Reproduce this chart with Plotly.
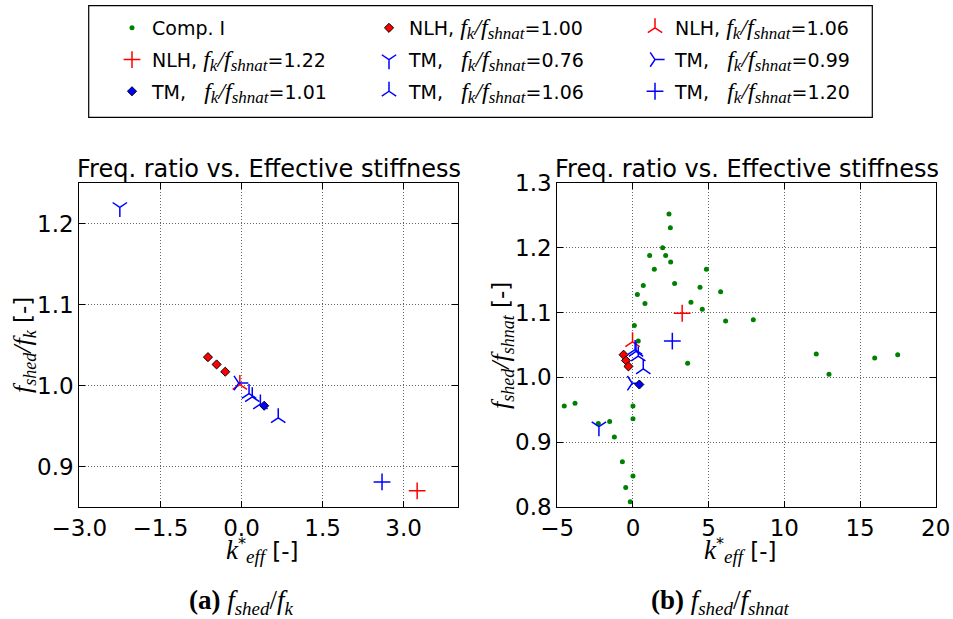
import plotly.graph_objects as go

W, H = 953, 619

# ---- data ----
# Comp. I (only in panel b)
comp_k = [2.38, 2.47, 1.96, 1.10, 2.16, 2.49, 1.41, 4.85, 0.68, 2.75, 4.43, 0.29,
          5.79, 0.79, 3.83, 4.58, 6.12, 7.95, 0.09, 0.35, 3.61, 12.11, 12.95, 15.97,
          17.49, -4.54, -3.83, -2.29, -1.54, -1.23, 0.00, 0.00, -0.70, 0.00, -0.48, -0.18]
comp_ratio = [1.252, 1.231, 1.200, 1.188, 1.188, 1.178, 1.167, 1.167, 1.142, 1.145, 1.139, 1.128,
              1.132, 1.114, 1.116, 1.105, 1.087, 1.089, 1.080, 1.056, 1.022, 1.036, 1.005, 1.030,
              1.035, 0.956, 0.960, 0.929, 0.932, 0.908, 0.956, 0.936, 0.870, 0.848, 0.830, 0.808]

nlh100_k = [-0.62, -0.46, -0.30]
nlh100_fk = [1.035, 1.026, 1.017]
nlh100_fn = [1.035, 1.026, 1.017]

nlh106_k = [-0.03]
nlh106_fk = [1.001]
nlh106_fn = [1.055]

nlh122_k = [3.25]
nlh122_fk = [0.870]
nlh122_fn = [1.099]

tm076_k = [-2.25]
tm076_fk = [1.220]
tm076_fn = [0.924]

tm099_k = [-0.05]
tm099_fk = [1.003]
tm099_fn = [0.991]

tm101_k = [0.42]
tm101_fk = [0.975]
tm101_fn = [0.989]

tm106_k = [0.14, 0.20, 0.35, 0.68]
tm106_fk = [0.990, 0.986, 0.977, 0.960]
tm106_fn = [1.043, 1.040, 1.033, 1.013]

tm120_k = [2.60]
tm120_fk = [0.881]
tm120_fn = [1.056]

x_ticks_a = [-3.0, -1.5, 0.0, 1.5, 3.0]
y_ticks_a = [0.9, 1.0, 1.1, 1.2]
x_ticks_b = [-5, 0, 5, 10, 15, 20]
y_ticks_b = [0.8, 0.9, 1.0, 1.1, 1.2, 1.3]

GREEN, RED, BLUE = '#008000', '#ff0000', '#0000ff'


def math(s, size=None):
    st = 'font-family:Liberation Serif'
    if size:
        st += ';font-size:%dpx' % size
    return '<span style="' + st + '"><i>' + s + '</i></span>'


def ratio_lbl(kind, val, gap=' '):
    return (kind + ',' + gap + math('f', 24) + '<sub>' + math('k', 17) + '</sub>'
            + math('/f', 24) + '<sub>' + math('shnat', 17) + '</sub>=' + val)


# (name, k, y panel a, y panel b, symbol, size, colour, edge, legend column)
series = [
    ('Comp. I', None, None, None, 'circle', 5, GREEN, None, 'legend'),
    (ratio_lbl('NLH', '1.00'), nlh100_k, nlh100_fk, nlh100_fn, 'diamond', 7, RED, 'black', 'legend2'),
    (ratio_lbl('NLH', '1.06'), nlh106_k, nlh106_fk, nlh106_fn, 'y-up', 12, RED, None, 'legend3'),
    (ratio_lbl('NLH', '1.22'), nlh122_k, nlh122_fk, nlh122_fn, 'cross-thin', 12, RED, None, 'legend'),
    (ratio_lbl('TM', '0.76', '   '), tm076_k, tm076_fk, tm076_fn, 'y-down', 12, BLUE, None, 'legend2'),
    (ratio_lbl('TM', '0.99', '   '), tm099_k, tm099_fk, tm099_fn, 'y-right', 12, BLUE, None, 'legend3'),
    (ratio_lbl('TM', '1.01', '   '), tm101_k, tm101_fk, tm101_fn, 'diamond', 7, BLUE, 'black', 'legend'),
    (ratio_lbl('TM', '1.06', '   '), tm106_k, tm106_fk, tm106_fn, 'y-up', 12, BLUE, None, 'legend2'),
    (ratio_lbl('TM', '1.20', '   '), tm120_k, tm120_fk, tm120_fn, 'cross-thin', 12, BLUE, None, 'legend3'),
]

fig = go.Figure()

for name, k, ya, yb, sym, size, col, edge, leg in series:
    if edge:
        mk = dict(symbol=sym, size=size, color=col, line=dict(color=edge, width=1))
    elif sym == 'circle':
        mk = dict(symbol=sym, size=size, color=col, line=dict(width=0))
    else:
        mk = dict(symbol=sym, size=size, color=col, line=dict(color=col, width=1.5))
    if name == 'Comp. I':
        fig.add_trace(go.Scatter(x=comp_k, y=comp_ratio, mode='markers', marker=mk, name=name,
                                 legend=leg, legendgroup=name, xaxis='x2', yaxis='y2'))
        continue
    fig.add_trace(go.Scatter(x=k, y=ya, mode='markers', marker=mk, name=name, legendgroup=name,
                             showlegend=False, xaxis='x', yaxis='y'))
    fig.add_trace(go.Scatter(x=k, y=yb, mode='markers', marker=mk, name=name, legendgroup=name,
                             legend=leg, xaxis='x2', yaxis='y2'))

ax = dict(showline=True, linecolor='black', linewidth=1, mirror='ticks', ticks='inside',
          ticklen=6, tickcolor='black', showgrid=True, gridcolor='#666', griddash='1px,2px',
          gridwidth=1, zeroline=False, tickformat='.1f', automargin=False,
          tickfont=dict(family='DejaVu Sans', size=23, color='black'))

xa_dom = [79.3 / W, 457.7 / W]
xb_dom = [557.3 / W, 935.7 / W]
y_dom = [1 - 507 / H, 1 - 183 / H]

fig.update_layout(
    xaxis=dict(ax, domain=xa_dom, range=[-3, 4], tickvals=x_ticks_a, anchor='y'),
    yaxis=dict(ax, domain=y_dom, range=[0.85, 1.25], tickvals=y_ticks_a, anchor='x'),
    xaxis2=dict(ax, domain=xb_dom, range=[-5, 20], tickvals=x_ticks_b, tickformat='d', anchor='y2'),
    yaxis2=dict(ax, domain=y_dom, range=[0.8, 1.3], tickvals=y_ticks_b, anchor='x2'),
)

leg_common = dict(orientation='v', xanchor='left', yanchor='top', bgcolor='rgba(0,0,0,0)',
                  borderwidth=0, tracegroupgap=4,
                  font=dict(family='DejaVu Sans', size=19, color='black'))
fig.update_layout(
    legend=dict(leg_common, x=112 / W, y=1 - 9 / H),
    legend2=dict(leg_common, x=369 / W, y=1 - 9 / H),
    legend3=dict(leg_common, x=635 / W, y=1 - 9 / H),
)

# legend frame
fig.add_shape(type='rect', xref='paper', yref='paper', x0=88.7 / W, x1=872.3 / W,
              y0=1 - 117.3 / H, y1=1 - 5.7 / H, line=dict(color='black', width=1.2),
              fillcolor='rgba(0,0,0,0)')

title_txt = 'Freq. ratio vs. Effective stiffness'
sans = dict(family='DejaVu Sans', size=24, color='black')
serif = dict(family='Liberation Serif', size=27, color='black')
for dom in (xa_dom, xb_dom):
    cx = (dom[0] + dom[1]) / 2
    fig.add_annotation(text=title_txt, x=cx, y=1 - 185 / H, xref='paper', yref='paper',
                       xanchor='center', yanchor='bottom', showarrow=False, font=sans)
    fig.add_annotation(text=math('k', 27) + '<sup>*</sup><sub>' + math('eff', 19) + '</sub> [-]',
                       x=cx - 6 / W, y=1 - 550 / H, xref='paper', yref='paper', xanchor='center',
                       yanchor='middle', showarrow=False, font=dict(sans, size=23))

fig.add_annotation(text=math('f', 26) + '<sub>' + math('shed', 18) + '</sub>' + math('/f', 26)
                   + '<sub>' + math('k', 18) + '</sub> [-]', x=24 / W, y=1 - 345 / H,
                   xref='paper', yref='paper', textangle=-90, xanchor='center',
                   yanchor='middle', showarrow=False, font=dict(sans, size=23))
fig.add_annotation(text=math('f', 26) + '<sub>' + math('shed', 18) + '</sub>' + math('/f', 26)
                   + '<sub>' + math('shnat', 18) + '</sub> [-]', x=502 / W, y=1 - 345 / H,
                   xref='paper', yref='paper', textangle=-90, xanchor='center',
                   yanchor='middle', showarrow=False, font=dict(sans, size=23))

fig.add_annotation(text='<b>(a)</b> <i>f</i><sub><i>shed</i></sub>/<i>f</i><sub><i>k</i></sub>',
                   x=241 / W, y=1 - 602 / H, xref='paper', yref='paper', xanchor='center',
                   yanchor='middle', showarrow=False, font=serif)
fig.add_annotation(text='<b>(b)</b> <i>f</i><sub><i>shed</i></sub>/<i>f</i><sub><i>shnat</i></sub>',
                   x=720 / W, y=1 - 602 / H, xref='paper', yref='paper', xanchor='center',
                   yanchor='middle', showarrow=False, font=serif)

fig.update_layout(width=W, height=H, margin=dict(l=0, r=0, t=0, b=0, pad=0),
                  paper_bgcolor='white', plot_bgcolor='white', showlegend=True)

# drop the browser's default 8px body margin so the figure sits at the page corner
fig.write_html("out.html", config={'displayModeBar': False},
               post_script="document.body.style.margin='0px';")
